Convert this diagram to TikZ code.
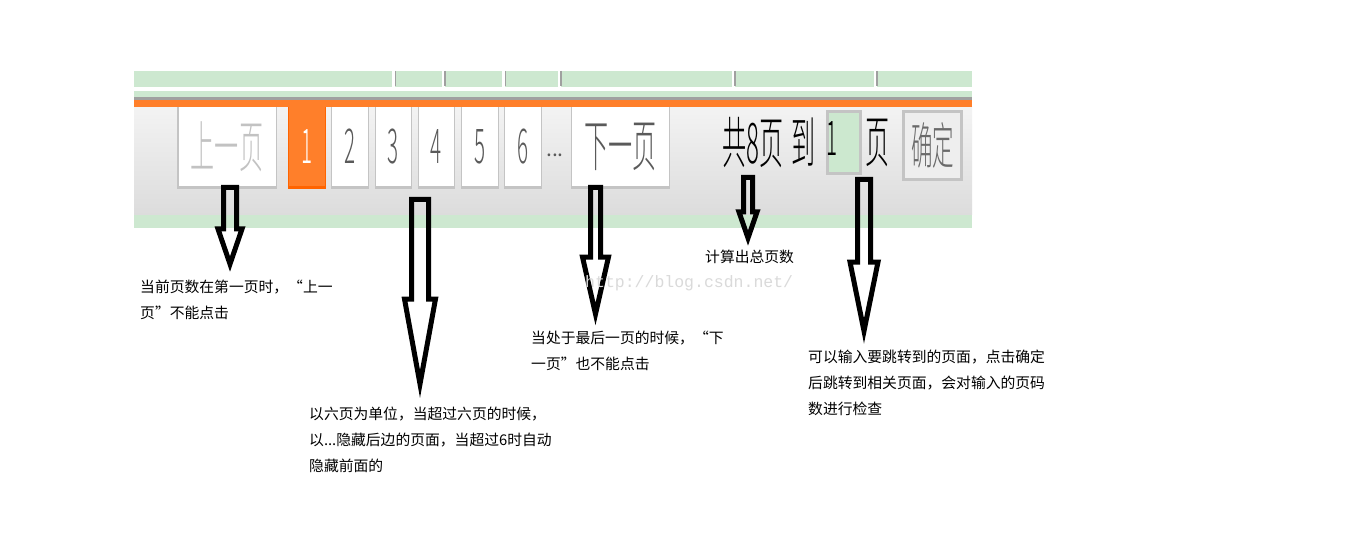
\documentclass[tikz,border=0pt]{standalone}
\usepackage{fontspec}
\newfontfamily\cjk{Noto Sans CJK SC}
\newfontfamily\narrow[FakeStretch=0.43]{Noto Sans CJK SC Light}
\newfontfamily\wmark{Liberation Mono}
\usepackage{tikz}
\definecolor{pggreen}{HTML}{CDE8D0}
\definecolor{pgorange}{HTML}{FF7F2A}
\definecolor{pgorangedark}{HTML}{FF6400}
\definecolor{btnborder}{HTML}{C4C4C4}
\definecolor{topgray}{HTML}{A0A0A0}
\definecolor{bgtop}{HTML}{F3F3F3}
\definecolor{bgbottom}{HTML}{DCDCDC}
\definecolor{prevtext}{HTML}{C2C2C2}
\definecolor{pagetext}{HTML}{5A5A5A}
\definecolor{inputgreen}{HTML}{CCE8CF}
\definecolor{okfill}{HTML}{EEEEEE}
\definecolor{oktext}{HTML}{6A6A6A}
\definecolor{markgray}{HTML}{DADADA}

\begin{document}
\begin{tikzpicture}[x=1pt, y=-1pt,
    pagebtn/.style={draw=btnborder, fill=white, line width=1.5, minimum height=81,
      inner sep=0, text=pagetext, font=\narrow\fontsize{48}{48}\selectfont},
    bigtext/.style={inner sep=0, font=\narrow\fontsize{56}{56}\selectfont},
    note/.style={anchor=north west, inner sep=0, align=left,
      font=\cjk\fontsize{14.8}{26}\selectfont},
    hollow/.style={draw=black, line width=5}]
    \useasboundingbox (0,0) rectangle (1360,540);
    \fill[white] (0,0) rectangle (1360,540);

    \fill[pggreen] (134,71) rectangle (972,87);
    \draw[white, line width=3] (393.5,71) -- (393.5,87) (443,71) -- (443,87)
      (503.5,71) -- (503.5,87) (559,71) -- (559,87) (733,71) -- (733,87) (875,71) -- (875,87);
    \draw[topgray, line width=1.5] (395.5,71) -- (395.5,86) (445,71) -- (445,86)
      (505.5,71) -- (505.5,86) (561,71) -- (561,86) (735,71) -- (735,86) (877,71) -- (877,86);
    \fill[pggreen] (134,91) rectangle (972,97);
    \fill[topgray] (134,97) rectangle (972,100);
    \shade[top color=bgtop, bottom color=bgbottom] (134,107) rectangle (972,215);
    \fill[pggreen] (134,215) rectangle (972,228);

    \node[pagebtn, minimum width=98.5, text=prevtext, font=\narrow\fontsize{56}{56}\selectfont] (prev) at (227,146.5) {上一页};
    \node[pagebtn, minimum width=37, fill=pgorange, draw=pgorangedark, text=white] (p1) at (307,146.5) {1};
    \node[pagebtn, minimum width=37] (p2) at (350,146.5) {2};
    \node[pagebtn, minimum width=36] (p3) at (393.5,146.5) {3};
    \node[pagebtn, minimum width=36] (p4) at (436.5,146.5) {4};
    \node[pagebtn, minimum width=37] (p5) at (480,146.5) {5};
    \node[pagebtn, minimum width=37] (p6) at (523,146.5) {6};
    \node[inner sep=0, text=pagetext, font=\cjk\fontsize{21}{21}\selectfont] (dots) at (555,155) {...};
    \node[pagebtn, minimum width=98, font=\narrow\fontsize{56}{56}\selectfont] (next) at (620.5,146.5) {下一页};

    \draw[btnborder, line width=3] (prev.south west) -- (prev.south east);
    \draw[pgorangedark, line width=3] (p1.south west) -- (p1.south east);
    \draw[btnborder, line width=3] (p2.south west) -- (p2.south east);
    \draw[btnborder, line width=3] (p3.south west) -- (p3.south east);
    \draw[btnborder, line width=3] (p4.south west) -- (p4.south east);
    \draw[btnborder, line width=3] (p5.south west) -- (p5.south east);
    \draw[btnborder, line width=3] (p6.south west) -- (p6.south east);
    \draw[btnborder, line width=3] (next.south west) -- (next.south east);

    \fill[pgorange] (134,100) rectangle (972,107);

    \node[bigtext, anchor=west] (total) at (722,143) {共8页\hspace{8pt}到};
    \node[draw=btnborder, fill=inputgreen, line width=3, minimum width=33, minimum height=62, inner sep=0] (jump) at (844,142.5) {};
    \node[inner sep=0, font=\narrow\fontsize{48}{48}\selectfont] (jumpnum) at (832,139) {1};
    \node[bigtext] (unit) at (878,143) {页};
    \node[draw=btnborder, fill=okfill, line width=3, minimum width=58, minimum height=68, inner sep=0,
      text=oktext, font=\narrow\fontsize{50}{50}\selectfont] (ok) at (932.5,145.5) {确定};

    \draw[hollow] (223.5,187.5) -- (223.5,229) -- (218,229) -- (230,264) -- (242,229) -- (236.5,229) -- (236.5,187.5) -- cycle;
    \draw[hollow] (411.5,199.5) -- (411.5,299) -- (404.5,299) -- (420,384) -- (435.5,299) -- (428.5,299) -- (428.5,199.5) -- cycle;
    \draw[hollow] (590.5,187.5) -- (590.5,257) -- (582.5,257) -- (595.5,314) -- (608.5,257) -- (600.5,257) -- (600.5,187.5) -- cycle;
    \draw[hollow] (743.5,177.5) -- (743.5,212) -- (739,212) -- (748,238) -- (757,212) -- (752.5,212) -- (752.5,177.5) -- cycle;
    \draw[hollow] (857.5,179.5) -- (857.5,262) -- (850,262) -- (864,331) -- (878,262) -- (870.5,262) -- (870.5,179.5) -- cycle;

    \node[note] (notePrev) at (140,279.6) {当前页数在第一页时，“上一\\页”不能点击};
    \node[note] (noteHide) at (309,406.6) {以六页为单位，当超过六页的时候，\\以...隐藏后边的页面，当超过6时自动\\隐藏前面的};
    \node[note] (noteNext) at (531,330.6) {当处于最后一页的时候，“下\\一页”也不能点击};
    \node[note] (noteTotal) at (705,249.6) {计算出总页数};
    \node[note] (noteJump) at (808,349.6) {可以输入要跳转到的页面，点击确定\\后跳转到相关页面，会对输入的页码\\数进行检查};

    \node[anchor=base west, inner sep=0, text=markgray, font=\wmark\fontsize{16.5}{16.5}\selectfont] (mark) at (585,287) {http://blog.csdn.net/};
\end{tikzpicture}
\end{document}
